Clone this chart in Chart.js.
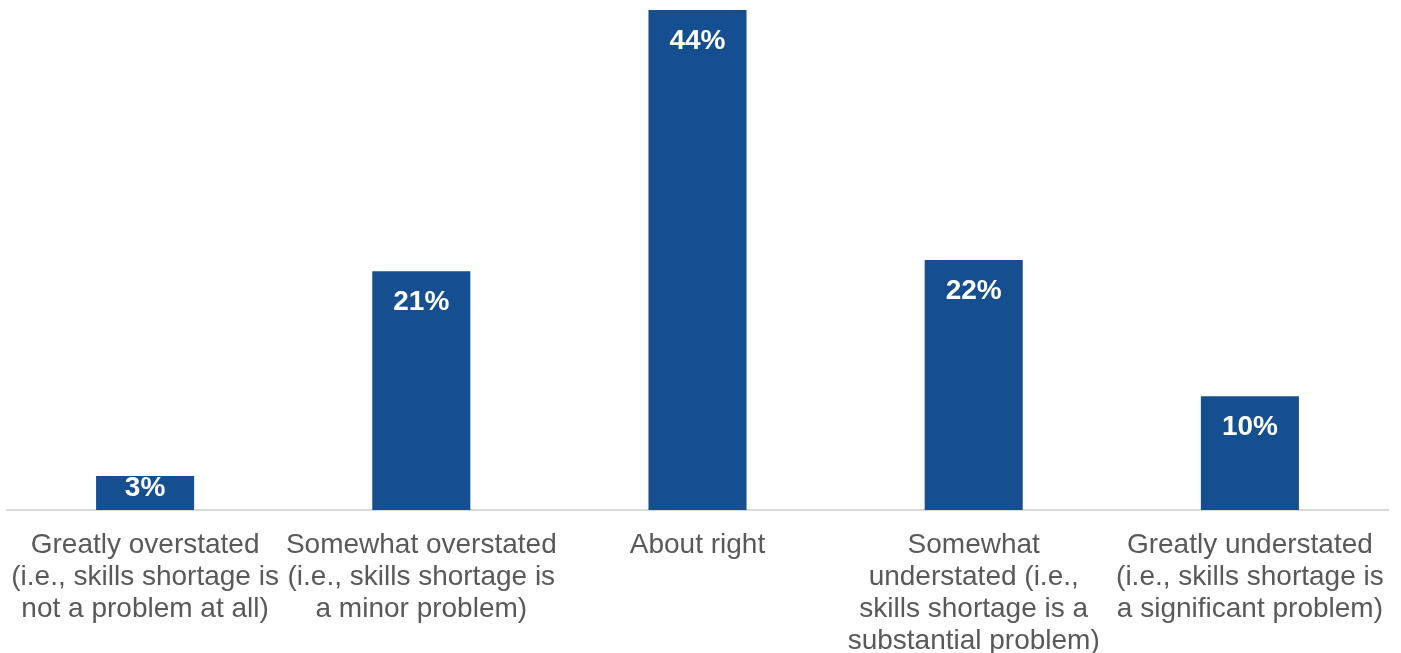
<!DOCTYPE html>
<html>
<head>
<meta charset="utf-8">
<script src="https://cdn.jsdelivr.net/npm/chart.js@4/dist/chart.umd.min.js"></script>
<style>
  html, body { margin: 0; padding: 0; background: #fff; }
  #wrap { width: 1401px; height: 653px; }
</style>
</head>
<body>
<div id="wrap"><canvas id="bars" width="1401" height="653"></canvas></div>
<script>
// answer categories, one array per line of the axis label
categories = [
    ["Greatly overstated", "(i.e., skills shortage is", "not a problem at all)"],
    ["Somewhat overstated", "(i.e., skills shortage is", "a minor problem)"],
    ["About right"],
    ["Somewhat", "understated (i.e.,", "skills shortage is a", "substantial problem)"],
    ["Greatly understated", "(i.e., skills shortage is", "a significant problem)"]
];

// share of respondents, percent
shares = [3, 21, 44, 22, 10];

// writes the value inside the top of each bar
const valueLabels = {
    id: "valueLabels",
    afterDatasetsDraw(chart) {
        const ctx = chart.ctx;
        const meta = chart.getDatasetMeta(0);
        ctx.save();
        ctx.fillStyle = "#ffffff";
        ctx.font = "bold 28px 'Liberation Sans', Arial, sans-serif";
        ctx.textAlign = "center";
        ctx.textBaseline = "middle";
        meta.data.forEach(function (bar, i) {
            var h = bar.base - bar.y;
            var y = Math.min(bar.y + 31, bar.y + h / 2 - 5);
            ctx.fillText(shares[i] + "%", bar.x, y);
        });
        ctx.restore();
    }
};

new Chart("bars", {
    type: "bar",
    data: {
        labels: categories,
        datasets: [{
            data: shares,
            backgroundColor: "#154f8f",
            categoryPercentage: 1,
            barPercentage: 0.355
        }]
    },
    options: {
        responsive: false,
        animation: false,
        layout: { padding: { top: 10, left: 7, right: 13, bottom: 0 } },
        plugins: {
            legend: { display: false },
            tooltip: { enabled: false }
        },
        scales: {
            x: {
                grid: { display: false, drawTicks: false },
                border: { display: true, color: "#d9d9d9", width: 2 },
                ticks: {
                    color: "#595959",
                    font: { family: "'Liberation Sans', Arial, sans-serif", size: 28, lineHeight: 1.15 },
                    padding: 19,
                    maxRotation: 0,
                    autoSkip: false
                },
                afterFit(scale) {
                    // fixed axis band, no extra side room for the long labels
                    scale.height = 143;
                    scale.paddingLeft = 0;
                    scale.paddingRight = 0;
                }
            },
            y: {
                display: false,
                min: 0,
                max: 44
            }
        }
    },
    plugins: [valueLabels]
});
</script>
</body>
</html>
